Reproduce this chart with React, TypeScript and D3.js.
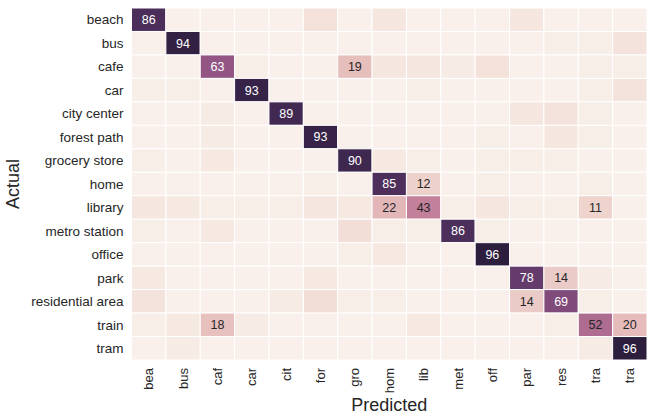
import React, { useEffect, useRef } from "react";
import * as d3 from "d3";

// class names (rows) and truncated predicted labels (columns)
const classes = [
  "beach", "bus", "cafe", "car", "city center", "forest path", "grocery store",
  "home", "library", "metro station", "office", "park", "residential area", "train", "tram",
];
const predictedLabels = classes.map(c => c.slice(0, 3));

// confusion matrix in percent
const beachRow = [86, 0, 0, 0, 0, 6, 0, 4, 0, 0, 0, 4, 0, 0, 0];
const busRow = [0, 94, 0, 0, 0, 0, 0, 0, 0, 0, 0, 0, 1, 1, 5];
const cafeRow = [0, 0, 63, 1, 0, 0, 19, 4, 4, 2, 6, 0, 0, 1, 1];
const carRow = [1, 1, 0, 93, 0, 0, 0, 0, 1, 0, 0, 0, 0, 1, 5];
const cityRow = [0, 0, 2, 0, 89, 0, 0, 0, 0, 0, 0, 4, 5, 1, 0];
const forestRow = [0, 0, 2, 0, 0, 93, 0, 0, 0, 0, 1, 0, 4, 1, 0];
const groceryRow = [1, 0, 3, 0, 0, 0, 90, 3, 1, 0, 1, 1, 1, 0, 0];
const homeRow = [0, 0, 0, 0, 0, 1, 0, 85, 12, 0, 1, 0, 0, 1, 0];
const libraryRow = [4, 3, 1, 1, 1, 4, 3, 22, 43, 1, 4, 1, 1, 11, 0];
const metroRow = [1, 0, 3, 0, 0, 0, 7, 1, 1, 86, 1, 0, 0, 0, 0];
const officeRow = [0, 0, 0, 0, 0, 0, 1, 3, 0, 0, 96, 0, 0, 0, 0];
const parkRow = [3, 0, 0, 0, 0, 3, 0, 0, 0, 0, 0, 78, 14, 2, 0];
const residentialRow = [5, 0, 0, 0, 2, 7, 1, 1, 0, 0, 0, 14, 69, 1, 0];
const trainRow = [1, 3, 18, 2, 0, 0, 0, 0, 3, 0, 0, 0, 1, 52, 20];
const tramRow = [0, 2, 0, 0, 0, 0, 0, 0, 0, 0, 0, 0, 0, 2, 96];

const matrix = [
  beachRow, busRow, cafeRow, carRow, cityRow, forestRow, groceryRow, homeRow,
  libraryRow, metroRow, officeRow, parkRow, residentialRow, trainRow, tramRow,
];

// seaborn cubehelix_palette(light=.95, dark=.15) as a continuous map
function cubehelix(t: number) {
  const x = 0.95 - 0.8 * t;
  const chan = (p0: number, p1: number) => {
    const a = (0.8 * x * (1 - x)) / 2;
    const phi = 2 * Math.PI * (0.4 * x);
    return Math.max(0, Math.min(1, x + a * (p0 * Math.cos(phi) + p1 * Math.sin(phi))));
  };
  const r = chan(-0.14861, 1.78277);
  const g = chan(-0.29227, -0.90649);
  const b = chan(1.97294, 0);
  return { r, g, b, css: d3.rgb(r * 255, g * 255, b * 255).formatHex() };
}

const App = () => {
  const ref = useRef<SVGSVGElement>(null);

  useEffect(() => {
    const svg = d3.select(ref.current);
    svg.selectAll("*").remove();

    const left = 131.5, right = 647, top = 8, bottom = 360;
    const font = "'Liberation Sans', Arial, sans-serif";
    const textColor = "#262626";

    const x = d3.scaleBand().domain(d3.range(15).map(String)).range([left, right]);
    const y = d3.scaleBand().domain(d3.range(15).map(String)).range([top, bottom]);

    const vmax = d3.max(matrix.flat()) as number;
    const color = d3.scaleLinear().domain([0, vmax]).range([0, 1]).clamp(true);

    const cells = matrix.flatMap((row, i) => row.map((v, j) => ({ i, j, v })));

    const g = svg.append("g");
    g.selectAll("rect")
      .data(cells)
      .join("rect")
      .attr("x", d => x(String(d.j)) as number)
      .attr("y", d => y(String(d.i)) as number)
      .attr("width", x.bandwidth())
      .attr("height", y.bandwidth())
      .attr("fill", d => cubehelix(color(d.v)).css)
      .attr("stroke", "white")
      .attr("stroke-width", 1);

    // annotations only for the larger values
    g.selectAll("text")
      .data(cells.filter(d => d.v >= 10))
      .join("text")
      .attr("x", d => (x(String(d.j)) as number) + x.bandwidth() / 2)
      .attr("y", d => (y(String(d.i)) as number) + y.bandwidth() / 2)
      .attr("dy", "0.35em")
      .attr("text-anchor", "middle")
      .style("font-family", font)
      .style("font-size", "12.5px")
      .attr("fill", d => {
        const c = cubehelix(color(d.v));
        const lum = 0.2126 * c.r + 0.7152 * c.g + 0.0722 * c.b;
        return lum > 0.408 ? textColor : "#ffffff";
      })
      .text(d => d.v);

    // y tick labels
    svg.append("g")
      .selectAll("text")
      .data(classes)
      .join("text")
      .attr("x", left - 8)
      .attr("y", (d, i) => (y(String(i)) as number) + y.bandwidth() / 2)
      .attr("dy", "0.35em")
      .attr("text-anchor", "end")
      .style("font-family", font)
      .style("font-size", "13.5px")
      .attr("fill", textColor)
      .text(d => d);

    // x tick labels (rotated)
    svg.append("g")
      .selectAll("text")
      .data(predictedLabels)
      .join("text")
      .attr("transform", (d, i) =>
        `translate(${(x(String(i)) as number) + x.bandwidth() / 2},${bottom + 8}) rotate(-90)`)
      .attr("dy", "0.35em")
      .attr("text-anchor", "end")
      .style("font-family", font)
      .style("font-size", "13px")
      .attr("fill", textColor)
      .text(d => d);

    // axis titles
    svg.append("text")
      .attr("x", (left + right) / 2)
      .attr("y", 411)
      .attr("text-anchor", "middle")
      .style("font-family", font)
      .style("font-size", "18px")
      .attr("fill", textColor)
      .text("Predicted");

    svg.append("text")
      .attr("transform", `translate(19,${(top + bottom) / 2}) rotate(-90)`)
      .attr("text-anchor", "middle")
      .style("font-family", font)
      .style("font-size", "18px")
      .attr("fill", textColor)
      .text("Actual");
  }, []);

  return (
    <svg ref={ref} width={648} height={416}
      style={{ position: "absolute", left: 0, top: 0, background: "white" }} />
  );
};

export default App;
